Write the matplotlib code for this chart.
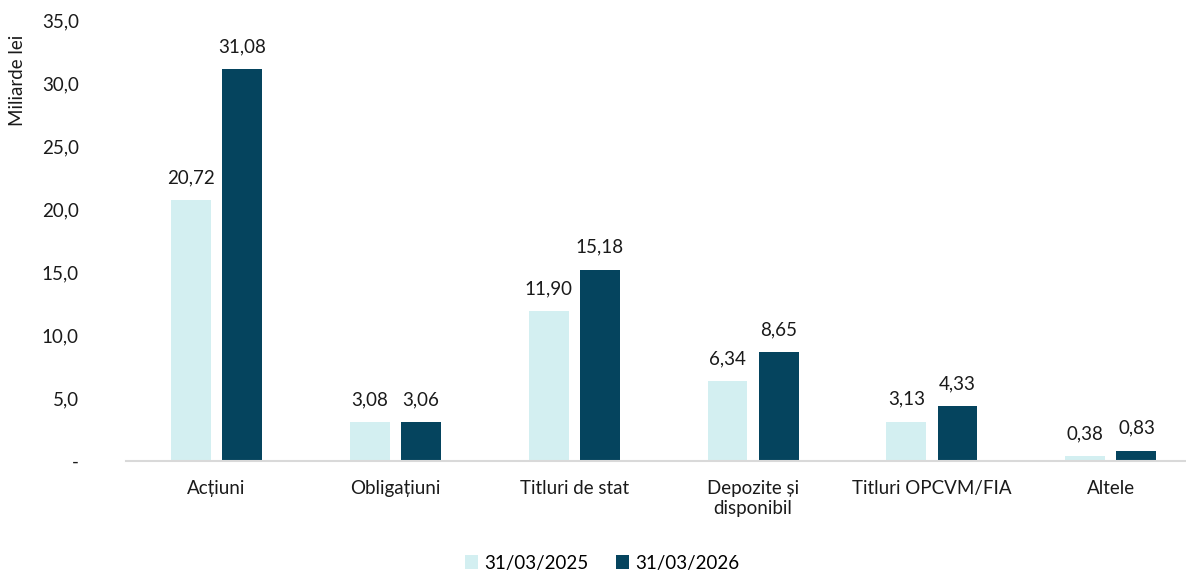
import numpy as np
import matplotlib.pyplot as plt

plt.rcParams['font.family'] = ['Lato', 'DejaVu Sans']
plt.rcParams['font.size'] = 13.5

categorii = ['Acțiuni', 'Obligațiuni', 'Titluri de stat', 'Depozite și\ndisponibil',
             'Titluri OPCVM/FIA', 'Altele']
serii = ['31/03/2025', '31/03/2026']
val_2025 = [20.72, 3.08, 11.90, 6.34, 3.13, 0.38]
val_2026 = [31.08, 3.06, 15.18, 8.65, 4.33, 0.83]
culori = ['#D3EFF1', '#05445E']

fig = plt.figure(figsize=(11.86, 5.73), dpi=100)
ax = fig.add_axes([126 / 1186, 112 / 573, 1 - 126 / 1186, 441 / 573])

x = np.arange(len(categorii))
w = 0.223
off = 0.143
for vals, c, lab, sgn in zip([val_2025, val_2026], culori, serii, [-1, 1]):
    bars = ax.bar(x + sgn * off, vals, width=w, color=c, label=lab)
    for b, v in zip(bars, vals):
        ax.annotate(f'{v:.2f}'.replace('.', ','), (b.get_x() + b.get_width() / 2, v),
                    xytext=(0, 10), textcoords='offset points',
                    ha='center', va='bottom', color='#1a1a1a')

ax.set_xlim(-0.505, 5.42)
ax.set_ylim(0, 35)
ax.set_yticks(np.arange(0, 36, 5))
ax.set_yticklabels(['-'] + [f'{t:.1f}'.replace('.', ',') for t in np.arange(5, 36, 5)])
ax.set_xticks(x)
ax.set_xticklabels(categorii, va='top')
ax.tick_params(axis='y', length=0, pad=34, labelcolor='#1a1a1a')
ax.tick_params(axis='x', length=0, pad=14, labelcolor='#1a1a1a')
for s in ['top', 'right', 'left']:
    ax.spines[s].set_visible(False)
ax.spines['bottom'].set_color('#D9D9D9')
ax.spines['bottom'].set_linewidth(1.5)

fig.text(18 / 1186, 1 - 80 / 573, 'Miliarde lei', rotation=90, ha='center', va='center',
         color='#1a1a1a')

fig.legend(loc='center', bbox_to_anchor=(602 / 1186, 1 - 563 / 573), ncol=2, frameon=False,
           handlelength=0.7, handleheight=0.7, handletextpad=0.3, columnspacing=1.5)

fig.savefig('out.png', dpi=100)
